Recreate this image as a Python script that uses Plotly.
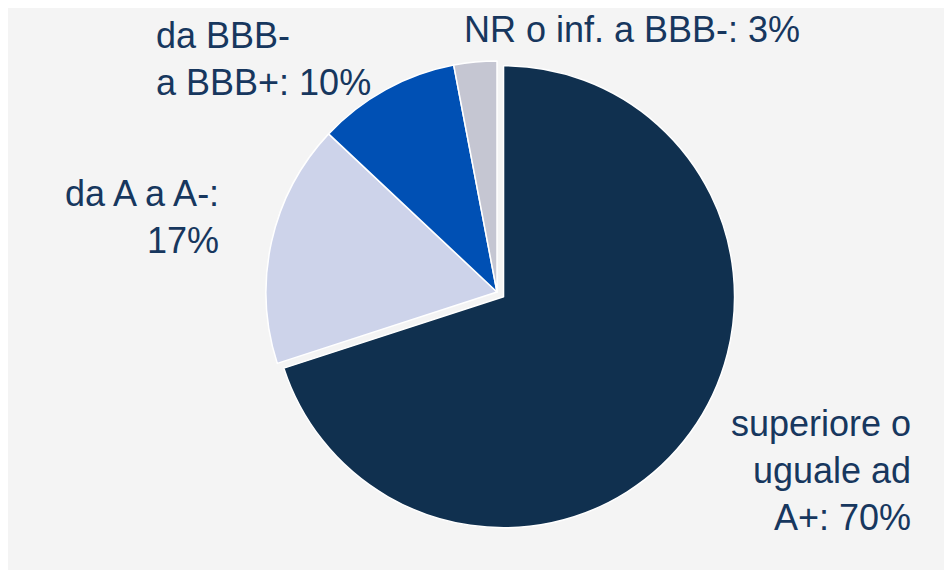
import plotly.graph_objects as go

categories = ["superiore o uguale ad A+", "da A a A-", "da BBB- a BBB+", "NR o inf. a BBB-"]
values = [70, 17, 10, 3]
label_texts = ["superiore o<br>uguale ad<br>A+: 70%", "da A a A-:<br>17%", "da BBB-<br>a BBB+: 10%", "NR o inf. a BBB-: 3%"]
colors = ["#10304f", "#cdd3ea", "#0050b4", "#c5c6d2"]

W, H = 952, 570
cx, cy = 489, 284  # pixel centre within the figure (from top-left)
pull_amt = 0.035
R = 231 * (1 + pull_amt)

fig = go.Figure()
fig.add_trace(go.Pie(
    labels=categories,
    values=values,
    sort=False,
    direction="clockwise",
    rotation=0,
    pull=[pull_amt, 0, 0, 0],
    marker=dict(colors=colors, line=dict(color="#ffffff", width=1.5)),
    textinfo="none",
    hoverinfo="label+percent",
    showlegend=False,
    domain=dict(x=[(cx - R) / W, (cx + R) / W], y=[(H - cy - R) / H, (H - cy + R) / H]),
))

font = dict(family="Liberation Sans, Arial, sans-serif", size=36, color="#17375e")
# annotation anchors (pixels from figure top-left)
ann = [
    (905, 462, "right", "right"),
    (213, 209, "right", "right"),
    (146, 51, "left", "left"),
    (454, 21, "left", "left"),
]
for txt, (x, y, xa, al) in zip(label_texts, ann):
    fig.add_annotation(
        x=x / W, y=1 - y / H, xref="paper", yref="paper",
        text=txt, showarrow=False, xanchor=xa, yanchor="middle", align=al, font=font,
    )

fig.update_layout(
    width=W, height=H,
    margin=dict(l=0, r=0, t=0, b=0),
    paper_bgcolor="#f4f4f4",
)

fig.write_html("out.html")
